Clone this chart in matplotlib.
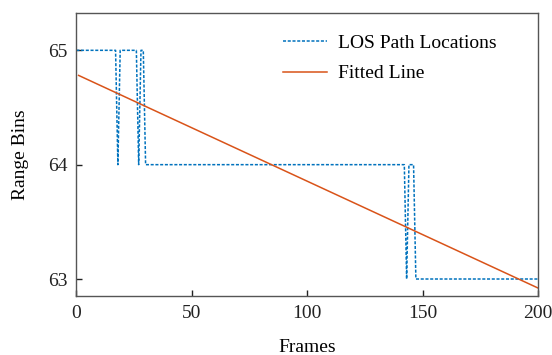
import numpy as np
import matplotlib
matplotlib.use("Agg")
import matplotlib.pyplot as plt

plt.rcParams['font.family'] = ['Liberation Serif', 'DejaVu Serif']
plt.rcParams['mathtext.fontset'] = 'stix'

# LOS path location (range bin) per frame, frames 0..200
frames = np.arange(0, 201)
segments = [  # (first frame, last frame, range bin)
    (0, 17, 65), (18, 18, 64), (19, 26, 65), (27, 27, 64), (28, 29, 65),
    (30, 142, 64), (143, 143, 63), (144, 146, 64), (147, 200, 63),
]
los_bins = np.concatenate([np.full(b - a + 1, v) for a, b, v in segments])

fit_intercept = 64.79
fit_slope = -0.00935
fit_x = np.array([1, 200])
fit_y = fit_intercept + fit_slope * fit_x

xticks = [0, 50, 100, 150, 200]
yticks = [63, 64, 65]

W, H = 552, 355
fig = plt.figure(figsize=(W/100, H/100), dpi=100)
ax = fig.add_axes([76.3/W, 1 - 295.7/H, (538.3-76.3)/W, (295.7-12.7)/H])

FS = 14
ax.plot(frames, los_bins, linestyle=(0, (2.0, 1.1)), color='#0072BD', lw=1.1,
        label='LOS Path Locations')
ax.plot(fit_x, fit_y, color='#D95319', lw=1.1, label='Fitted Line')

ax.set_xlim(0, 200)
ax.set_ylim(62.854, 65.329)
ax.set_xticks(xticks)
ax.set_yticks(yticks)
ax.tick_params(direction='in', labelsize=FS, length=4, width=1, colors='#222222',
               top=False, right=False, pad=6.5)
for s in ax.spines.values():
    s.set_color('#555555')
    s.set_linewidth(1.0)

ax.set_xlabel('Frames', fontsize=FS, labelpad=12.5)
ax.set_ylabel('Range Bins', fontsize=FS, labelpad=13.5)

ax.legend(loc='upper left', frameon=False, fontsize=FS, handlelength=2.26,
          handletextpad=0.6, borderpad=0, borderaxespad=0,
          bbox_to_anchor=(282.7/W, 1 - 34/H), bbox_transform=fig.transFigure,
          labelspacing=0.68)

fig.savefig('out.png', dpi=100)
